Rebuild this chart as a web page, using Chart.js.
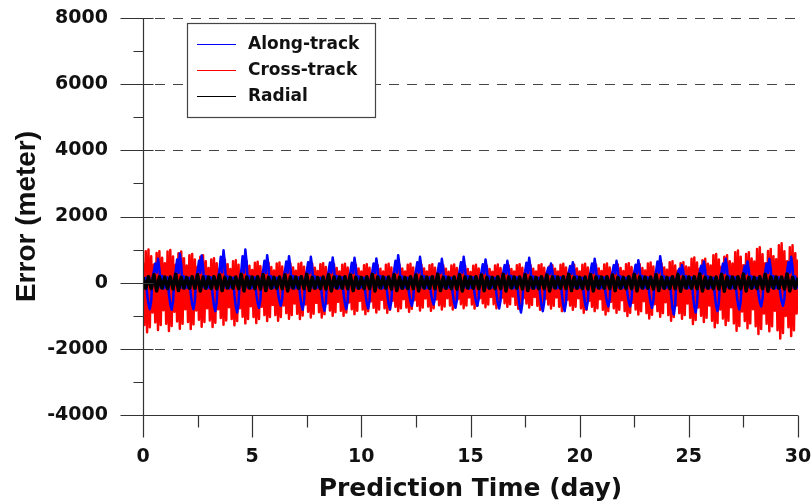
<!DOCTYPE html>
<html>
<head>
<meta charset="utf-8">
<script src="https://cdn.jsdelivr.net/npm/chart.js@4.4.1/dist/chart.umd.min.js"></script>
<style>
    html, body { margin: 0; padding: 0; background: #fff; }
    #wrap { width: 812px; height: 502px; }
</style>
</head>
<body>
<div id="wrap"><canvas id="errorChart" width="812" height="502"></canvas></div>
<script>
// Orbit prediction error. Along-track and cross-track: 16 samples per day,
// radial: 8 samples per day (one row = one day)
const alongRate = 16;
const crossRate = 16;
const radialRate = 8;

const alongTrack = [
    120, -150, 150, -350, -640, -800, -560, 150, 350, 580, 300, 720, 430, -150, 200, -180,
    110, -160, 160, -340, -660, -820, -570, 140, 360, 700, 290, 880, 530, -160, 190, -170,
    120, -150, 150, -350, -640, -800, -560, 150, 350, 660, 300, 820, 490, -150, 200, -180,
    110, -160, 160, -360, -690, -860, -600, 140, 370, 780, 310, 980, 590, -160, 190, -170,
    120, -150, 150, -370, -720, -900, -630, 150, 360, 800, 300, 1000, 600, -150, 200, -180,
    110, -160, 160, -340, -610, -760, -530, 140, 350, 660, 290, 830, 500, -160, 190, -170,
    120, -150, 150, -330, -560, -700, -490, 150, 350, 640, 300, 800, 480, -150, 200, -180,
    110, -160, 160, -350, -660, -820, -570, 140, 340, 620, 290, 780, 470, -160, 190, -170,
    120, -150, 150, -360, -680, -850, -600, 150, 340, 610, 300, 760, 460, -150, 200, -180,
    110, -160, 160, -350, -640, -800, -560, 140, 340, 600, 290, 750, 450, -160, 190, -170,
    120, -150, 150, -340, -620, -780, -550, 150, 330, 580, 290, 730, 440, -150, 200, -180,
    110, -160, 160, -350, -640, -800, -560, 140, 360, 660, 300, 830, 500, -160, 190, -170,
    120, -150, 150, -330, -560, -700, -490, 150, 350, 620, 300, 780, 470, -150, 200, -180,
    110, -160, 160, -320, -530, -660, -460, 140, 330, 580, 290, 720, 430, -160, 190, -170,
    120, -150, 150, -340, -610, -760, -530, 150, 350, 620, 300, 780, 470, -150, 200, -180,
    110, -160, 160, -330, -560, -700, -490, 140, 330, 560, 280, 700, 420, -160, 190, -170,
    120, -150, 150, -340, -620, -780, -550, 150, 320, 530, 280, 660, 400, -150, 200, -180,
    110, -160, 160, -370, -720, -900, -630, 140, 340, 600, 290, 750, 450, -160, 190, -170,
    120, -150, 150, -360, -690, -860, -600, 150, 300, 460, 260, 580, 350, -150, 200, -180,
    110, -160, 160, -360, -690, -860, -600, 140, 310, 500, 270, 620, 370, -160, 190, -170,
    120, -150, 150, -350, -640, -800, -560, 150, 330, 580, 290, 720, 430, -150, 200, -180,
    110, -160, 160, -330, -580, -720, -500, 140, 320, 530, 280, 660, 400, -160, 190, -170,
    120, -150, 150, -330, -580, -720, -500, 150, 320, 540, 280, 680, 410, -150, 200, -180,
    110, -160, 160, -340, -610, -760, -530, 140, 350, 640, 300, 800, 480, -160, 190, -170,
    120, -150, 150, -380, -770, -960, -670, 150, 290, 420, 250, 530, 320, -150, 200, -180,
    110, -160, 160, -370, -720, -900, -630, 140, 310, 510, 270, 640, 380, -160, 190, -170,
    120, -150, 150, -360, -690, -860, -600, 150, 330, 580, 290, 720, 430, -150, 200, -180,
    110, -160, 160, -350, -650, -810, -570, 140, 310, 510, 270, 640, 380, -160, 190, -170,
    120, -150, 150, -330, -580, -720, -500, 150, 330, 580, 290, 720, 430, -150, 200, -180,
    110, -160, 160, -320, -560, -700, -490, 140, 340, 620, 300, 780, 470, -160, 190, -170,
    120
];

const crossTrack = [
    600, -1280, 950, -1500, 1000, -1350, 800, -900, 550, -1200, 900, -1430, 950, -1280, 750, -830,
    590, -1240, 940, -1460, 990, -1310, 790, -880, 540, -1170, 890, -1390, 940, -1240, 740, -800,
    520, -1190, 830, -1400, 870, -1260, 700, -840, 480, -1120, 780, -1330, 830, -1190, 650, -770,
    440, -1140, 700, -1340, 740, -1210, 590, -800, 410, -1070, 670, -1270, 700, -1140, 560, -740,
    410, -1100, 650, -1290, 680, -1160, 540, -770, 370, -1030, 610, -1230, 650, -1100, 510, -710,
    380, -1040, 600, -1220, 630, -1100, 500, -730, 350, -980, 570, -1160, 600, -1040, 470, -670,
    370, -980, 580, -1150, 610, -1040, 490, -690, 340, -920, 550, -1090, 580, -980, 460, -630,
    360, -940, 570, -1100, 600, -990, 480, -660, 330, -880, 540, -1050, 570, -940, 450, -610,
    350, -890, 560, -1050, 590, -950, 470, -630, 320, -840, 530, -1000, 560, -890, 440, -580,
    340, -850, 540, -1000, 570, -900, 460, -600, 310, -800, 510, -950, 540, -850, 430, -550,
    340, -810, 530, -950, 560, -860, 450, -570, 310, -760, 500, -900, 530, -810, 420, -520,
    340, -770, 540, -910, 570, -820, 460, -550, 310, -730, 510, -860, 540, -770, 430, -500,
    340, -750, 540, -880, 570, -790, 460, -530, 310, -700, 510, -840, 540, -750, 430, -480,
    340, -720, 530, -850, 560, -770, 450, -510, 310, -680, 500, -810, 530, -720, 420, -470,
    330, -690, 520, -810, 550, -730, 440, -490, 300, -650, 500, -770, 520, -690, 410, -450,
    320, -660, 510, -780, 540, -700, 430, -470, 300, -620, 490, -740, 510, -660, 410, -430,
    330, -650, 520, -770, 550, -690, 440, -460, 300, -620, 500, -730, 520, -650, 410, -420,
    340, -670, 530, -790, 560, -710, 450, -470, 310, -630, 500, -750, 530, -670, 420, -430,
    340, -700, 530, -820, 560, -740, 450, -490, 310, -660, 500, -780, 530, -700, 420, -450,
    340, -730, 540, -860, 570, -770, 460, -520, 310, -690, 510, -820, 540, -730, 430, -470,
    340, -770, 540, -910, 570, -820, 460, -550, 310, -730, 510, -860, 540, -770, 430, -500,
    350, -820, 550, -960, 580, -860, 460, -580, 320, -770, 520, -910, 550, -820, 440, -530,
    350, -860, 560, -1010, 590, -910, 470, -610, 320, -810, 530, -960, 560, -860, 440, -560,
    370, -920, 580, -1080, 610, -970, 490, -650, 340, -860, 550, -1030, 580, -920, 460, -590,
    390, -980, 620, -1150, 650, -1040, 520, -690, 360, -920, 590, -1090, 620, -980, 490, -630,
    460, -1060, 720, -1250, 760, -1130, 610, -750, 420, -1000, 680, -1190, 720, -1060, 570, -690,
    520, -1150, 830, -1350, 870, -1220, 700, -810, 480, -1080, 780, -1280, 830, -1150, 650, -740,
    580, -1230, 920, -1450, 970, -1310, 780, -870, 530, -1160, 870, -1380, 920, -1230, 730, -800,
    640, -1320, 1020, -1550, 1070, -1400, 860, -930, 590, -1240, 960, -1470, 1020, -1320, 800, -850,
    710, -1440, 1130, -1690, 1190, -1520, 950, -1010, 650, -1350, 1070, -1610, 1130, -1440, 890, -930,
    700
];

const radial = [
    160, -170, 180, -180, 240, -250, 170, -160,
    170, -180, 170, -190, 250, -240, 160, -160,
    160, -170, 180, -170, 240, -250, 170, -170,
    170, -180, 180, -180, 230, -240, 160, -160,
    160, -170, 170, -180, 250, -250, 170, -160,
    170, -180, 180, -190, 240, -240, 160, -170,
    160, -170, 170, -180, 230, -250, 170, -160,
    170, -170, 180, -180, 250, -240, 160, -170,
    160, -180, 170, -190, 240, -250, 170, -160,
    170, -170, 180, -180, 230, -240, 160, -170,
    160, -180, 180, -180, 250, -250, 170, -160,
    170, -170, 170, -190, 240, -240, 160, -170,
    160, -180, 180, -180, 230, -250, 170, -160,
    170, -170, 180, -180, 250, -240, 160, -170,
    160, -180, 170, -190, 240, -250, 170, -160,
    170, -170, 180, -180, 230, -240, 160, -170,
    160, -180, 180, -180, 250, -250, 170, -160,
    170, -170, 170, -190, 240, -240, 160, -170,
    160, -180, 180, -180, 230, -250, 170, -160,
    170, -170, 180, -180, 250, -240, 160, -170,
    160, -180, 170, -190, 240, -250, 170, -160,
    170, -170, 180, -180, 230, -240, 160, -170,
    160, -180, 180, -180, 250, -250, 170, -160,
    170, -170, 170, -190, 240, -240, 160, -170,
    160, -180, 180, -180, 250, -260, 170, -160,
    170, -170, 180, -180, 260, -250, 160, -170,
    160, -180, 170, -190, 250, -260, 170, -160,
    170, -170, 180, -180, 260, -250, 160, -170,
    160, -180, 180, -180, 250, -260, 170, -160,
    170, -170, 170, -190, 260, -250, 160, -170,
    150
];

const xTicks = [0, 5, 10, 15, 20, 25, 30];
const yTicks = [-4000, -2000, 0, 2000, 4000, 6000, 8000];

const toPoints = (values, rate) => values.map((v, i) => ({x: i / rate, y: v}));

const tickFont = {family: 'DejaVu Sans', weight: 'bold', size: 19};
const inkColor = '#111';

// Axis lines, crossing tick marks and dashed grid
const axisFrame = {
    id: 'axisFrame',
    beforeDatasetsDraw(chart) {
        const {ctx, chartArea, scales: {y}} = chart;
        ctx.save();
        ctx.strokeStyle = '#444';
        ctx.lineWidth = 1;
        ctx.setLineDash([10, 8]);
        yTicks.forEach(v => {
            if (v === yTicks[0]) return;
            const py = Math.round(y.getPixelForValue(v)) + 0.5;
            ctx.beginPath();
            ctx.moveTo(chartArea.left + 12, py);
            ctx.lineTo(chartArea.right, py);
            ctx.stroke();
        });
        ctx.restore();
    },
    afterDatasetsDraw(chart) {
        const {ctx, chartArea, scales: {x, y}} = chart;
        const left = Math.round(chartArea.left) + 0.5;
        const bottom = Math.round(chartArea.bottom) + 0.5;
        ctx.save();
        ctx.strokeStyle = '#333';
        ctx.lineWidth = 1.2;
        ctx.beginPath();
        ctx.moveTo(left, chartArea.top);
        ctx.lineTo(left, bottom);
        ctx.lineTo(chartArea.right, bottom);

        yTicks.forEach((v, i) => {
            const py = Math.round(y.getPixelForValue(v)) + 0.5;
            ctx.moveTo(left - 23, py);
            ctx.lineTo(left + 10, py);
            if (i < yTicks.length - 1) {
                const pm = Math.round(y.getPixelForValue((v + yTicks[i + 1]) / 2)) + 0.5;
                ctx.moveTo(left - 10, pm);
                ctx.lineTo(left, pm);
            }
        });

        xTicks.forEach((v, i) => {
            const px = Math.round(x.getPixelForValue(v)) + 0.5;
            ctx.moveTo(px, bottom);
            ctx.lineTo(px, bottom + 22);
            if (i < xTicks.length - 1) {
                const pm = Math.round(x.getPixelForValue((v + xTicks[i + 1]) / 2)) + 0.5;
                ctx.moveTo(pm, bottom);
                ctx.lineTo(pm, bottom + 12);
            }
        });
        ctx.stroke();
        ctx.restore();
    }
};

// Boxed legend in the upper left of the plot
const legendBox = {
    id: 'legendBox',
    afterDraw(chart) {
        const ctx = chart.ctx;
        ctx.save();
        ctx.fillStyle = '#fff';
        ctx.fillRect(187, 23, 188, 94);
        ctx.strokeStyle = '#444';
        ctx.lineWidth = 1.2;
        ctx.strokeRect(187.5, 23.5, 188, 94);
        ctx.font = 'bold 17px "DejaVu Sans"';
        ctx.textBaseline = 'middle';
        chart.data.datasets.forEach((ds, i) => {
            const rowY = 44 + i * 26;
            ctx.strokeStyle = ds.borderColor;
            ctx.lineWidth = 1;
            ctx.beginPath();
            ctx.moveTo(197, rowY + 0.5);
            ctx.lineTo(236, rowY + 0.5);
            ctx.stroke();
            ctx.fillStyle = inkColor;
            ctx.fillText(ds.label, 248, rowY + 1);
        });
        ctx.restore();
    }
};

const lineStyle = {
    pointRadius: 0,
    tension: 0,
    borderJoinStyle: 'round',
    fill: false
};

new Chart(document.getElementById('errorChart'), {
    type: 'line',
    data: {
        datasets: [
            {label: 'Along-track', data: toPoints(alongTrack, alongRate), borderColor: '#0000ff', borderWidth: 2.5, order: 1, ...lineStyle},
            {label: 'Cross-track', data: toPoints(crossTrack, crossRate), borderColor: '#ff0000', borderWidth: 2.5, order: 2, ...lineStyle},
            {label: 'Radial', data: toPoints(radial, radialRate), borderColor: '#000000', borderWidth: 3.5, order: 0, ...lineStyle}
        ]
    },
    options: {
        responsive: false,
        animation: false,
        devicePixelRatio: 1,
        layout: {padding: {top: 18, right: 14, left: 0, bottom: 0}},
        plugins: {
            legend: {display: false},
            tooltip: {enabled: false}
        },
        scales: {
            x: {
                type: 'linear',
                min: 0,
                max: 30,
                afterBuildTicks: s => { s.ticks = xTicks.map(v => ({value: v})); },
                afterFit: s => {
                    s.height = 87;
                    s.paddingLeft = 0;
                    s.paddingRight = 0;
                },
                grid: {display: false, drawTicks: false},
                border: {display: false},
                ticks: {font: tickFont, color: inkColor, padding: 31, maxRotation: 0, autoSkip: false},
                title: {
                    display: true,
                    text: 'Prediction Time (day)',
                    color: inkColor,
                    font: {family: 'DejaVu Sans', weight: 'bold', size: 25, lineHeight: 1},
                    padding: {top: 0, bottom: 0}
                }
            },
            y: {
                min: -4000,
                max: 8000,
                afterBuildTicks: s => { s.ticks = yTicks.map(v => ({value: v})); },
                afterFit: s => {
                    s.width = 143;
                    s.paddingTop = 0;
                    s.paddingBottom = 0;
                },
                grid: {display: false, drawTicks: false},
                border: {display: false},
                ticks: {font: tickFont, color: inkColor, padding: 35, callback: v => String(v)},
                title: {
                    display: true,
                    text: 'Error (meter)',
                    color: inkColor,
                    font: {family: 'Liberation Sans', weight: 'bold', size: 28, lineHeight: 1.2},
                    padding: {top: 10, bottom: 0}
                }
            }
        }
    },
    plugins: [axisFrame, legendBox]
});
</script>
</body>
</html>
